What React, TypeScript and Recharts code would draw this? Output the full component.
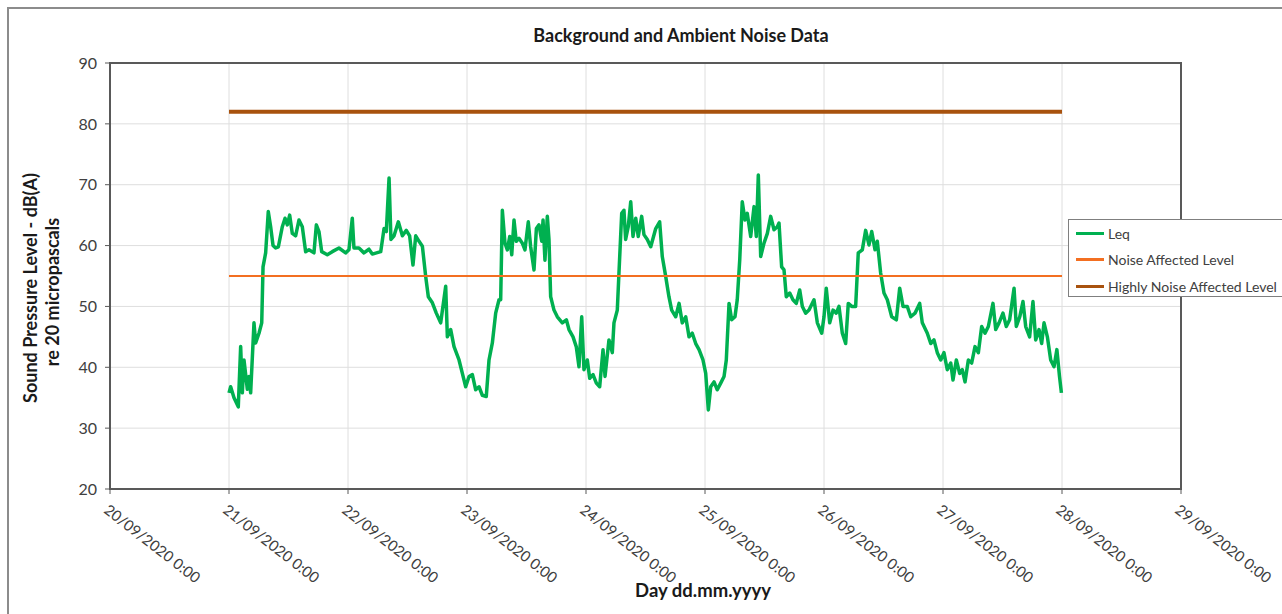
import { LineChart, Line, XAxis, YAxis, CartesianGrid, Legend, ReferenceArea } from 'recharts'

// x values are days counted from 20/09/2020 0:00
const dayTicks = [0, 1, 2, 3, 4, 5, 6, 7, 8, 9]
const dayLabels = [
  '20/09/2020 0:00', '21/09/2020 0:00', '22/09/2020 0:00', '23/09/2020 0:00', '24/09/2020 0:00',
  '25/09/2020 0:00', '26/09/2020 0:00', '27/09/2020 0:00', '28/09/2020 0:00', '29/09/2020 0:00',
]
const levelTicks = [20, 30, 40, 50, 60, 70, 80, 90]

const leqDays = [
  1.000, 1.014, 1.042, 1.078, 1.098, 1.112, 1.126, 1.154, 1.168, 1.182, 1.210, 1.224, 1.252, 1.275,
  1.286, 1.308, 1.330, 1.350, 1.370, 1.392, 1.415, 1.448, 1.471, 1.490, 1.510, 1.532, 1.560, 1.588,
  1.616, 1.644, 1.672, 1.714, 1.734, 1.756, 1.779, 1.826, 1.868, 1.924, 1.980, 2.008, 2.036, 2.050,
  2.092, 2.134, 2.176, 2.204, 2.275, 2.303, 2.322, 2.345, 2.361, 2.387, 2.423, 2.457, 2.490, 2.518,
  2.546, 2.569, 2.597, 2.625, 2.653, 2.675, 2.709, 2.742, 2.779, 2.821, 2.835, 2.863, 2.891, 2.933,
  2.961, 2.989, 3.017, 3.045, 3.073, 3.101, 3.129, 3.162, 3.185, 3.213, 3.241, 3.269,
  3.283, 3.297, 3.319, 3.339, 3.359, 3.376, 3.395, 3.414, 3.437, 3.465, 3.487, 3.515, 3.535, 3.563,
  3.583, 3.605, 3.628, 3.639, 3.655, 3.675, 3.689, 3.703, 3.731, 3.759, 3.801, 3.835, 3.857, 3.891,
  3.918, 3.941, 3.964, 3.983, 4.011, 4.031, 4.059, 4.087, 4.115, 4.143, 4.160, 4.193, 4.221, 4.235,
  4.263, 4.277, 4.300, 4.319, 4.333, 4.355, 4.376, 4.395, 4.418, 4.439, 4.468, 4.487, 4.515, 4.544,
  4.586, 4.619, 4.641, 4.670, 4.697, 4.720, 4.754, 4.782, 4.809, 4.838, 4.866, 4.893, 4.922, 4.950,
  4.983, 5.006, 5.028, 5.048, 5.076, 5.103, 5.132, 5.160, 5.179, 5.202, 5.224, 5.252, 5.271, 5.292,
  5.313, 5.336, 5.355, 5.384, 5.412, 5.431, 5.448, 5.468, 5.496, 5.524, 5.552, 5.580, 5.608,
  5.622, 5.644, 5.664, 5.683, 5.712, 5.739, 5.767, 5.796, 5.818, 5.846, 5.874, 5.916, 5.944, 5.981,
  6.000, 6.019, 6.048, 6.076, 6.103, 6.126, 6.154, 6.182, 6.204, 6.233, 6.266, 6.288, 6.322, 6.350,
  6.378, 6.401, 6.429, 6.448, 6.476, 6.504, 6.532, 6.569, 6.608, 6.636, 6.664, 6.700, 6.729, 6.765,
  6.804, 6.826, 6.868, 6.897, 6.924, 6.952, 6.981, 7.008, 7.036, 7.065, 7.084, 7.112, 7.140, 7.162,
  7.185, 7.213, 7.241, 7.269, 7.297, 7.325, 7.353, 7.381, 7.420, 7.443, 7.471, 7.504, 7.532, 7.560,
  7.597, 7.616, 7.645, 7.672, 7.695, 7.728, 7.756, 7.779, 7.807, 7.829, 7.849, 7.877, 7.905, 7.933,
  7.957, 7.979, 7.995,
]
const leqValues = [
  35.8, 36.8, 35.0, 33.5, 43.4, 35.8, 41.2, 36.4, 38.5, 35.8, 47.3, 44.0, 45.6, 47.3,
  56.5, 58.8, 65.6, 63.1, 60.0, 59.6, 59.8, 63.1, 64.5, 63.4, 65.0, 62.0, 61.6, 64.2,
  63.1, 59.0, 59.3, 58.8, 63.4, 62.3, 59.0, 58.5, 59.0, 59.6, 58.8, 59.3, 64.5, 59.6,
  59.6, 58.8, 59.4, 58.6, 59.0, 62.8, 62.3, 71.1, 61.0, 61.6, 63.9, 61.6, 62.5, 61.6,
  56.8, 61.6, 60.7, 59.9, 54.9, 51.6, 50.6, 48.9, 47.3, 53.3, 45.0, 46.2, 43.4, 41.2,
  39.0, 36.8, 38.5, 38.8, 36.3, 36.8, 35.4, 35.2, 41.2, 44.0, 48.9, 51.1,
  51.1, 65.8, 60.4, 59.3, 61.5, 58.5, 64.2, 60.7, 61.2, 60.4, 59.3, 63.9, 59.8, 56.0,
  62.8, 63.4, 60.7, 64.2, 57.6, 64.8, 61.0, 51.6, 49.4, 48.3, 47.3, 47.8, 46.2, 45.0,
  43.4, 40.1, 48.3, 39.6, 41.2, 38.2, 38.8, 37.4, 36.8, 42.9, 38.5, 44.5, 42.4, 47.3,
  49.4, 55.5, 65.3, 65.8, 61.0, 63.1, 67.2, 61.5, 64.5, 61.5, 64.8, 61.8, 61.0, 59.8,
  62.8, 63.9, 58.2, 54.9, 51.6, 49.4, 48.3, 50.5, 47.3, 48.3, 45.0, 45.6, 43.9, 42.9,
  41.2, 39.0, 33.0, 36.8, 37.6, 36.3, 37.4, 38.5, 41.2, 50.5, 47.8, 48.3, 51.1, 57.7,
  67.2, 64.2, 65.3, 61.5, 66.4, 61.5, 71.6, 58.2, 60.4, 62.0, 64.8, 62.6, 63.1,
  63.7, 56.5, 56.0, 51.6, 52.2, 51.1, 50.5, 52.7, 50.0, 48.9, 49.4, 51.1, 47.3, 45.6,
  48.3, 53.0, 47.3, 49.4, 48.9, 50.0, 45.6, 43.9, 50.5, 50.0, 50.0, 58.8, 59.3, 62.5,
  60.1, 62.3, 59.3, 60.7, 55.5, 52.2, 51.1, 48.3, 47.8, 53.0, 50.0, 50.0, 48.3, 48.9,
  50.5, 47.3, 45.6, 43.9, 44.5, 42.4, 41.2, 42.4, 39.6, 40.7, 37.9, 41.2, 39.0, 39.6,
  37.6, 41.2, 40.7, 43.4, 42.4, 46.7, 45.6, 46.7, 50.5, 46.2, 47.3, 48.9, 46.7, 47.8,
  53.0, 46.7, 48.3, 50.8, 46.7, 45.0, 50.8, 44.5, 46.2, 43.9, 47.3, 45.0, 41.2, 40.1,
  42.9, 38.5, 35.8,
]

const limitDays = [1, 8]
const noiseAffectedLevel = [55, 55]
const highlyAffectedLevel = [82, 82]

const seriesNames = ['Leq', 'Noise Affected Level', 'Highly Noise Affected Level']

const leqData = leqDays.map((d, i) => ({ day: d, level: leqValues[i] }))
const noiseData = limitDays.map((d, i) => ({ day: d, level: noiseAffectedLevel[i] }))
const highlyData = limitDays.map((d, i) => ({ day: d, level: highlyAffectedLevel[i] }))

const FONT = 'Lato, "Open Sans", sans-serif'
const TEXT = '#404040'

function DayTick({ x, y, payload }: any) {
  return (
    <text
      x={0}
      y={0}
      transform={`translate(${x - 7},${y + 16}) rotate(38)`}
      textAnchor="start"
      fontSize={15}
      fontFamily={FONT}
      fill={TEXT}
    >
      {dayLabels[payload.value]}
    </text>
  )
}

function LegendBox({ payload }: any) {
  // keep the series order of the original, not the default sorted one
  const items = seriesNames
    .map((n) => (payload || []).find((p: any) => p.value === n))
    .filter(Boolean)
  return (
    <div
      style={{
        width: 230, height: 78, border: '1px solid #7f7f7f', background: '#fff',
        boxSizing: 'border-box', paddingTop: 0, fontFamily: FONT, fontSize: 14, color: TEXT,
      }}
    >
      {items.map((p: any) => (
        <div key={p.value} style={{ display: 'flex', alignItems: 'center', height: 26.5 }}>
          <span
            style={{
              display: 'inline-block', width: 28, marginLeft: 7, marginRight: 4,
              height: 3, background: p.color,
            }}
          />
          <span>{p.value}</span>
        </div>
      ))}
    </div>
  )
}

export default function App() {
  return (
    <div style={{ position: 'absolute', left: 0, top: 0, width: 1282, height: 614, background: '#fff' }}>
      <div
        style={{
          position: 'absolute', left: 7, top: 7, width: 1280, height: 620,
          borderLeft: '2px solid #8c8c8c', borderTop: '2px solid #8c8c8c', boxSizing: 'border-box',
        }}
      />
      <LineChart width={1282} height={614} margin={{ top: 63, right: 101, left: 70, bottom: 95 }}>
        <CartesianGrid stroke="#dedede" strokeWidth={1} />
        <XAxis
          dataKey="day"
          type="number"
          domain={[0, 9]}
          ticks={dayTicks}
          allowDuplicatedCategory={false}
          height={30}
          axisLine={{ stroke: '#595959', strokeWidth: 2 }}
          tickLine={{ stroke: '#595959' }}
          tickSize={5}
          tick={<DayTick />}
          interval={0}
        />
        <YAxis
          type="number"
          domain={[20, 90]}
          ticks={levelTicks}
          width={40}
          axisLine={{ stroke: '#595959', strokeWidth: 2 }}
          tickLine={{ stroke: '#595959' }}
          tickSize={5}
          tickMargin={8}
          tick={{ fill: TEXT, fontSize: 16, fontFamily: FONT }}
          interval={0}
        />
        <ReferenceArea x1={0} x2={9} y1={20} y2={90} fill="none" stroke="#595959" strokeWidth={2} />
        <Legend
          layout="vertical"
          align="center"
          verticalAlign="middle"
          wrapperStyle={{ left: 1068, top: 219, width: 230 }}
          content={<LegendBox />}
        />
        <Line
          data={leqData}
          dataKey="level"
          name={seriesNames[0]}
          type="linear"
          stroke="#00b050"
          strokeWidth={3.5}
          strokeLinejoin="round"
          dot={false}
          isAnimationActive={false}
        />
        <Line
          data={noiseData}
          dataKey="level"
          name={seriesNames[1]}
          type="linear"
          stroke="#f36f21"
          strokeWidth={2}
          dot={false}
          isAnimationActive={false}
        />
        <Line
          data={highlyData}
          dataKey="level"
          name={seriesNames[2]}
          type="linear"
          stroke="#a8520e"
          strokeWidth={4}
          dot={false}
          isAnimationActive={false}
        />
      </LineChart>
      <div
        style={{
          position: 'absolute', left: 431, top: 24, width: 500, textAlign: 'center',
          fontFamily: FONT, fontWeight: 700, fontSize: 18, color: '#1a1a1a',
        }}
      >
        Background and Ambient Noise Data
      </div>
      <div
        style={{
          position: 'absolute', left: 553, top: 579, width: 300, textAlign: 'center',
          fontFamily: FONT, fontWeight: 700, fontSize: 18.5, color: '#1a1a1a',
        }}
      >
        Day dd.mm.yyyy
      </div>
      <svg style={{ position: 'absolute', left: 0, top: 0 }} width={80} height={614}>
        <text
          transform="translate(37,288) rotate(-90)"
          textAnchor="middle"
          fontFamily={FONT}
          fontWeight={700}
          fontSize={18}
          fill="#1a1a1a"
        >
          Sound Pressure Level - dB(A)
        </text>
        <text
          transform="translate(59,292) rotate(-90)"
          textAnchor="middle"
          fontFamily={FONT}
          fontWeight={700}
          fontSize={18}
          fill="#1a1a1a"
        >
          re 20 micropascals
        </text>
      </svg>
    </div>
  )
}
